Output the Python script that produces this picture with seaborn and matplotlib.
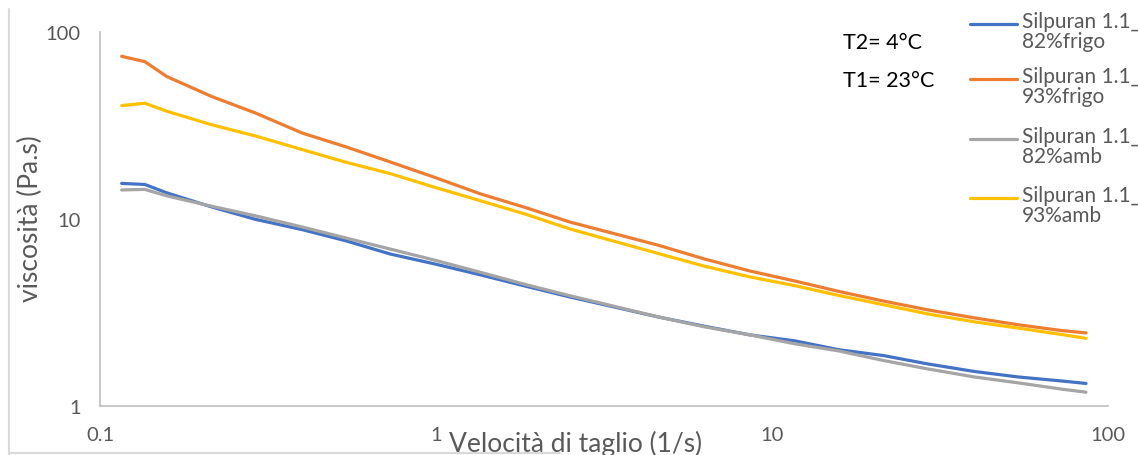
import pandas as pd
import matplotlib.pyplot as plt
import seaborn as sns
from matplotlib.lines import Line2D

# dati (velocita di taglio 1/s, viscosita Pa.s)
velocita = [0.116, 0.136, 0.158, 0.215, 0.29, 0.4, 0.54, 0.73, 1.0, 1.36, 1.85, 2.5,
            3.4, 4.6, 6.3, 8.6, 11.7, 15.8, 21.5, 29, 40, 54, 73, 86]
frigo_82 = [15.5, 15.3, 13.8, 11.6, 9.96, 8.77, 7.64, 6.50, 5.73, 5.02, 4.37, 3.83,
            3.38, 2.99, 2.67, 2.40, 2.23, 2.00, 1.86, 1.68, 1.53, 1.43, 1.36, 1.32]
frigo_93 = [74.1, 69.4, 57.8, 45.2, 36.9, 28.8, 24.3, 20.2, 16.6, 13.6, 11.5, 9.64,
            8.34, 7.23, 6.11, 5.27, 4.66, 4.10, 3.64, 3.27, 2.96, 2.72, 2.53, 2.46]
amb_82 = [14.3, 14.4, 13.3, 11.7, 10.4, 9.06, 7.91, 6.91, 6.00, 5.18, 4.46, 3.89,
          3.41, 2.99, 2.65, 2.40, 2.15, 1.97, 1.75, 1.58, 1.43, 1.33, 1.23, 1.185]
amb_93 = [40.4, 41.6, 37.7, 31.9, 27.8, 23.5, 20.1, 17.5, 14.7, 12.5, 10.6, 8.85,
          7.59, 6.53, 5.59, 4.90, 4.40, 3.90, 3.48, 3.11, 2.82, 2.61, 2.41, 2.30]

serie = ["Silpuran 1.1_\n82%frigo", "Silpuran 1.1_\n93%frigo",
         "Silpuran 1.1_\n82%amb", "Silpuran 1.1_\n93%amb"]
colori = ["#4472C4", "#ED7D31", "#A5A5A5", "#FFC000"]

righe = []
for nome, valori in zip(serie, [frigo_82, frigo_93, amb_82, amb_93]):
    for v, eta in zip(velocita, valori):
        righe.append({"velocita": v, "viscosita": eta, "serie": nome})
df = pd.DataFrame(righe)

sns.set_style("white")
plt.rcParams["font.family"] = ["Lato", "DejaVu Sans"]

grigio = "#595959"
fig = plt.figure(figsize=(11.38, 4.56), dpi=100)
ax = fig.add_axes([100 / 1138, 1 - 407 / 456, 1008 / 1138, 374 / 456])

sns.lineplot(data=df, x="velocita", y="viscosita", hue="serie", hue_order=serie,
             palette=colori, linewidth=2.3, legend=False, ax=ax)

ax.set_xscale("log")
ax.set_yscale("log")
ax.set_xlim(0.1, 100)
ax.set_ylim(1, 100)
ax.set_xticks([0.1, 1, 10, 100], ["0.1", "1", "10", "100"])
ax.set_yticks([1, 10, 100], ["1", "10", "100"])
ax.minorticks_off()
ax.tick_params(axis="x", length=0, pad=14.5, labelsize=14.5, labelcolor=grigio)
ax.tick_params(axis="y", length=0, pad=14, labelsize=14.5, labelcolor=grigio)
for lato in ["top", "right"]:
    ax.spines[lato].set_visible(False)
for lato in ["left", "bottom"]:
    ax.spines[lato].set_color("#BFBFBF")
    ax.spines[lato].set_linewidth(1.2)

ax.set_xlabel("Velocità di taglio (1/s)", fontsize=19, color=grigio, va="center")
ax.xaxis.set_label_coords(0.472, -0.098)
ax.set_ylabel("viscosità (Pa.s)", fontsize=19, color=grigio, va="center")
ax.yaxis.set_label_coords(-0.069, 0.505)

fig.text(843 / 1138, 1 - 43 / 456, "T2= 4°C", fontsize=15.5, color="black", va="center")
fig.text(843 / 1138, 1 - 81 / 456, "T1= 23°C", fontsize=15.5, color="black", va="center")

# legenda manuale: il segmento sta all'altezza della prima riga
for i, (nome, col) in enumerate(zip(serie, colori)):
    y = 1 - [25, 80, 140, 199][i] / 456
    fig.add_artist(Line2D([970 / 1138, 1017 / 1138], [y, y], color=col, lw=2.3,
                          transform=fig.transFigure))
    fig.text(1022 / 1138, y + 13 / 456, nome, fontsize=15, color=grigio, va="top",
             linespacing=1.0)

# bordo esterno chiaro
fig.add_artist(Line2D([9 / 1138, 9 / 1138], [1 - 10 / 456, 0], color="#D9D9D9", lw=1.5,
                      transform=fig.transFigure))
fig.add_artist(Line2D([9 / 1138, 560 / 1138], [2 / 456, 2 / 456], color="#D9D9D9", lw=1.5,
                      transform=fig.transFigure))

plt.savefig("out.png", dpi=100)
